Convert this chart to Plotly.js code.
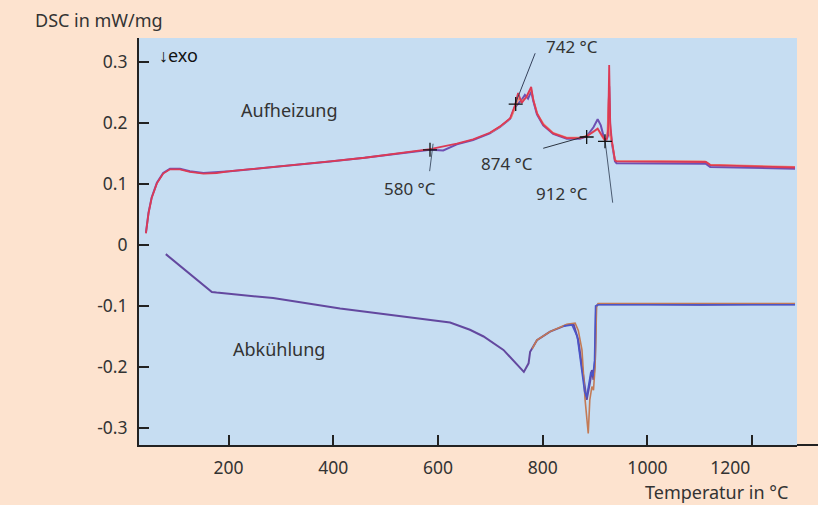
<!DOCTYPE html>
<html>
<head>
<meta charset="utf-8">
<script src="https://cdn.plot.ly/plotly-3.0.1.min.js"></script>
<style>
html,body{margin:0;padding:0;background:#fde3cf;}
#chart{width:818px;height:505px;}
</style>
</head>
<body>
<div id="chart"></div>
<script>
// ---- Data ----
const xTicks = [200, 400, 600, 800, 1000, 1200];
const xTickText = ["200", "400", "600", "800", "1000", "1200\u2003\u2003\u2002"];
const yTicks = [-0.3, -0.2, -0.1, 0, 0.1, 0.2, 0.3];
const yTickText = ["-0.3", "-0.2", "-0.1", "0", "0.1", "0.2", "0.3"];

// Heating (Aufheizung), red run
const heatRedT = [42, 47, 53, 63, 75, 88, 107, 126, 152, 177, 203, 266, 330, 394, 460, 527, 585, 636, 667, 699, 718, 738, 747, 753, 760, 769, 778, 782, 789, 801, 820, 846, 871, 884, 897, 905, 913, 919, 923, 925, 927, 929, 932, 938, 941, 1000, 1112, 1120, 1200, 1282];
const heatRedV = [0.019, 0.052, 0.077, 0.101, 0.117, 0.124, 0.124, 0.120, 0.117, 0.118, 0.121, 0.126, 0.131, 0.137, 0.143, 0.150, 0.157, 0.166, 0.173, 0.184, 0.194, 0.208, 0.229, 0.249, 0.233, 0.243, 0.259, 0.238, 0.216, 0.197, 0.183, 0.175, 0.175, 0.178, 0.186, 0.191, 0.180, 0.172, 0.175, 0.190, 0.295, 0.200, 0.172, 0.139, 0.137, 0.137, 0.136, 0.131, 0.129, 0.127];

// Heating, violet run
const heatVioT = [42, 47, 53, 63, 75, 88, 107, 126, 152, 177, 203, 266, 330, 394, 460, 527, 585, 610, 636, 667, 699, 718, 738, 747, 753, 760, 766, 772, 778, 782, 789, 801, 820, 846, 871, 884, 897, 905, 911, 917, 921, 925, 927, 929, 932, 938, 941, 1000, 1112, 1120, 1200, 1282];
const heatVioV = [0.020, 0.053, 0.078, 0.102, 0.118, 0.125, 0.125, 0.121, 0.118, 0.119, 0.121, 0.126, 0.131, 0.137, 0.143, 0.150, 0.156, 0.155, 0.165, 0.172, 0.183, 0.193, 0.207, 0.226, 0.232, 0.238, 0.246, 0.240, 0.252, 0.236, 0.214, 0.196, 0.182, 0.174, 0.174, 0.178, 0.193, 0.206, 0.196, 0.176, 0.170, 0.180, 0.260, 0.190, 0.168, 0.137, 0.134, 0.134, 0.133, 0.128, 0.126, 0.125];

// Heating, salmon run
const heatOrT = [700, 720, 740, 748, 754, 760, 768, 778, 783, 790, 802, 820, 846, 871, 884, 897, 905, 913, 919, 923, 926, 928, 932, 938, 941, 1110, 1120, 1282];
const heatOrV = [0.184, 0.195, 0.209, 0.228, 0.240, 0.236, 0.241, 0.256, 0.236, 0.215, 0.198, 0.184, 0.176, 0.176, 0.179, 0.185, 0.190, 0.178, 0.170, 0.174, 0.240, 0.180, 0.170, 0.140, 0.138, 0.137, 0.132, 0.128];

// Cooling (Abkühlung), violet run
const coolVioT = [80, 168, 177, 285, 413, 540, 591, 623, 661, 687, 725, 750, 764, 773, 776, 789, 814, 846, 852, 859, 868, 875, 881, 884, 890, 894, 897, 900, 902, 906, 1000, 1100, 1200, 1282];
const coolVioV = [-0.015, -0.077, -0.078, -0.087, -0.104, -0.118, -0.123, -0.127, -0.139, -0.150, -0.172, -0.194, -0.208, -0.194, -0.175, -0.156, -0.142, -0.131, -0.130, -0.130, -0.156, -0.200, -0.243, -0.254, -0.227, -0.205, -0.221, -0.189, -0.101, -0.097, -0.097, -0.098, -0.097, -0.097];

// Cooling, brown run
const coolBrT = [780, 789, 814, 846, 862, 868, 875, 881, 887, 890, 894, 897, 900, 903, 906, 1282];
const coolBrV = [-0.170, -0.156, -0.142, -0.130, -0.128, -0.140, -0.172, -0.254, -0.309, -0.254, -0.232, -0.238, -0.200, -0.100, -0.096, -0.096];

// Cooling, blue run
const coolBlT = [840, 856, 866, 874, 880, 884, 888, 892, 896, 899, 901, 906, 1282];
const coolBlV = [-0.133, -0.131, -0.150, -0.205, -0.240, -0.250, -0.232, -0.208, -0.215, -0.190, -0.100, -0.098, -0.098];

// Characteristic temperatures: markers and tangent lines
const markT = [584.7, 748.4, 884, 919];
const markV = [0.156, 0.231, 0.177, 0.170];
const markLabels = ["580 °C", "742 °C", "874 °C", "912 °C"];
const labelT = [547, 856, 732, 837];
const labelV = [0.093, 0.325, 0.134, 0.085];
const tan580T = [590.6, 584];   const tan580V = [0.166, 0.121];
const tan742T = [785.6, 748.4]; const tan742V = [0.3143, 0.233];
const tan874T = [801, 884];     const tan874V = [0.1585, 0.1787];
const tan912T = [919, 933.7];   const tan912V = [0.172, 0.0693];

const FONT = "Noto Sans, Open Sans, sans-serif";
const TXT = "#333333";

function line(x, y, color, w) {
  return {x: x, y: y, type: "scatter", mode: "lines", line: {color: color, width: w}, hoverinfo: "skip", showlegend: false};
}

const traces = [
  line(heatVioT, heatVioV, "#6e4fb3", 2),
  line(heatOrT, heatOrV, "#f08a6e", 1.6),
  line(heatRedT, heatRedV, "#dc3a55", 1.8),
  line(coolVioT, coolVioV, "#63489f", 2),
  line(coolBrT, coolBrV, "#c37a55", 1.6),
  line(coolBlT, coolBlV, "#4a55c8", 1.6),
  line(tan580T, tan580V, "#4a5a70", 1),
  line(tan742T, tan742V, "#34405a", 1),
  line(tan874T, tan874V, "#2c3440", 1),
  line(tan912T, tan912V, "#4a5a70", 1),
  {x: markT, y: markV, type: "scatter", mode: "markers", hoverinfo: "skip", showlegend: false,
   marker: {symbol: "cross-thin", size: 10, line: {color: "#111", width: 1.3}}}
];

const annotations = markLabels.map((t, i) => ({
  x: labelT[i], y: labelV[i], xref: "x", yref: "y", text: t, showarrow: false,
  font: {family: FONT, size: 17, color: TXT}
}));
annotations.push(
  {x: 317, y: 0.221, xref: "x", yref: "y", text: "Aufheizung", showarrow: false, font: {family: FONT, size: 18, color: TXT}},
  {x: 296, y: -0.170, xref: "x", yref: "y", text: "Abkühlung", showarrow: false, font: {family: FONT, size: 18, color: TXT}},
  {x: 0.027, y: 0.958, xref: "paper", yref: "paper", xanchor: "left", yanchor: "middle", text: "<b>↓</b>exo", showarrow: false, font: {family: FONT, size: 18, color: "#111"}},
  {x: -0.161, y: 1.044, xref: "paper", yref: "paper", xanchor: "left", yanchor: "middle", text: "DSC in mW/mg", showarrow: false, font: {family: FONT, size: 18, color: TXT}},
  {x: 0.989, y: -0.1155, xref: "paper", yref: "paper", xanchor: "right", yanchor: "middle", text: "Temperatur in °C", showarrow: false, font: {family: FONT, size: 18, color: TXT}}
);

const layout = {
  width: 818, height: 505,
  margin: {l: 139, r: 21, t: 38, b: 60, pad: 0},
  paper_bgcolor: "#fde3cf",
  plot_bgcolor: "#c6ddf2",
  showlegend: false,
  font: {family: FONT, size: 17, color: TXT},
  xaxis: {
    range: [28.8, 1285.8], tickvals: xTicks, ticktext: xTickText,
    ticks: "inside", ticklen: 10, tickwidth: 2, tickcolor: "#222",
    showgrid: false, zeroline: false, showline: true, linecolor: "#222", linewidth: 2,
    ticklabelstandoff: 6,
    tickfont: {family: FONT, size: 17.5, color: TXT}, fixedrange: true
  },
  yaxis: {
    range: [-0.3279, 0.3393], tickvals: yTicks, ticktext: yTickText,
    ticks: "inside", ticklen: 10, tickwidth: 2, tickcolor: "#222",
    showgrid: false, zeroline: false, showline: true, linecolor: "#222", linewidth: 2,
    ticklabelstandoff: 6,
    tickfont: {family: FONT, size: 17.5, color: TXT}, fixedrange: true
  },
  shapes: [
    {type: "line", xref: "paper", yref: "paper", x0: 1, x1: 1.035, y0: 0, y1: 0, line: {color: "#222", width: 2}}
  ],
  annotations: annotations
};

Plotly.newPlot("chart", traces, layout, {displayModeBar: false, staticPlot: true});
</script>
</body>
</html>
